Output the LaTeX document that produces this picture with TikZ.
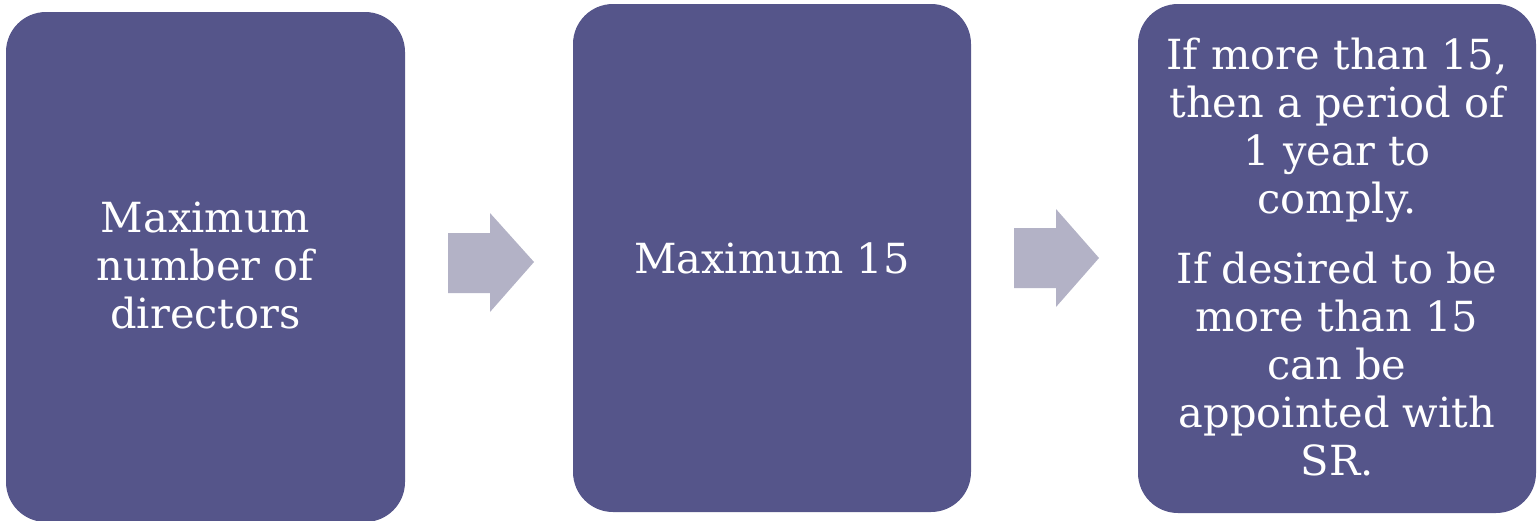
\documentclass[tikz,border=0pt]{standalone}
\usepackage{fontspec}
\setmainfont{DejaVu Serif}
\definecolor{boxpurple}{HTML}{55558A}
\definecolor{arrowgray}{HTML}{B3B2C6}
\begin{document}
\begin{tikzpicture}[x=1pt,y=-1pt,
  card/.style={fill=boxpurple, draw=none, rounded corners=40pt},
  cardtext/.style={text=white, align=center, font=\fontsize{41.5}{48}\selectfont, inner sep=0pt},
  fatarrow/.style={fill=arrowgray, draw=none}]
\useasboundingbox (0,0) rectangle (1537,520);
% boxes
\fill[card] (6,12) rectangle (405,522);
\fill[card] (573,4) rectangle (971,512);
\fill[card] (1138,4) rectangle (1536,513);
% arrows
\fill[fatarrow] (448,233) -- (490,233) -- (490,213) -- (534,262) -- (490,312) -- (490,293) -- (448,293) -- cycle;
\fill[fatarrow] (1014,228) -- (1056,228) -- (1056,209) -- (1099,258) -- (1056,307) -- (1056,288) -- (1014,288) -- cycle;
% texts
\node[cardtext] (t1) at (205.5,266) {Maximum\\number of\\directors};
\node[cardtext] (t2) at (772,258) {Maximum 15};
\node[cardtext] (t3) at (1337,257) {If more than 15,\\then a period of\\1 year to\\comply.\\[22pt]If desired to be\\more than 15\\can be\\appointed with\\SR.};
\end{tikzpicture}
\end{document}
